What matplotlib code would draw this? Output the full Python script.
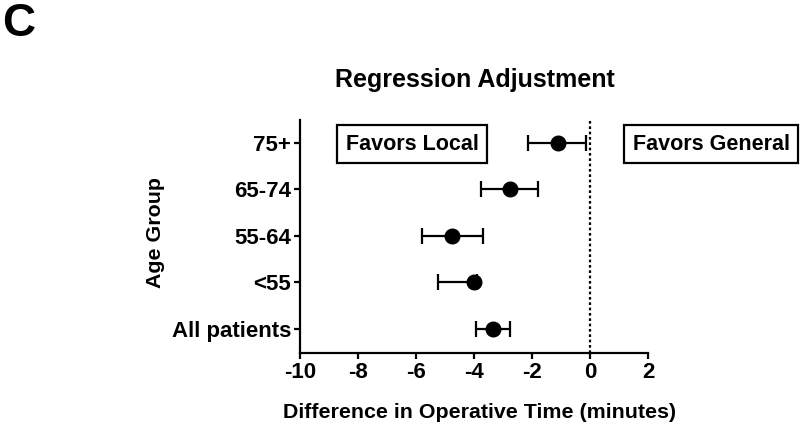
import matplotlib
matplotlib.use("Agg")
import matplotlib.pyplot as plt

plt.rcParams["font.family"] = ["Liberation Sans", "DejaVu Sans"]
plt.rcParams["font.weight"] = "bold"

# Data
groups = ["All patients", "<55", "55-64", "65-74", "75+"]
estimate = [-3.35, -3.99, -4.75, -2.78, -1.11]
ci_low = [-3.93, -5.24, -5.81, -3.78, -2.13]
ci_high = [-2.78, -3.90, -3.71, -1.80, -0.14]
x_ticks = [-10, -8, -6, -4, -2, 0, 2]

fig = plt.figure(figsize=(8, 4.28), dpi=100)
ax = fig.add_axes([0.375, 0.1752, 0.4354, 0.5444])

ypos = list(range(len(groups)))
err_lo = [e - lo for e, lo in zip(estimate, ci_low)]
err_hi = [hi - e for e, hi in zip(estimate, ci_high)]

ax.axvline(0, color="black", linestyle=(0, (1.2, 1.2)), linewidth=1.6, zorder=1)
ax.errorbar(estimate, ypos, xerr=[err_lo, err_hi], fmt="o", color="black",
            markersize=10.5, elinewidth=1.6, capsize=5.5, capthick=1.6, zorder=3)

ax.set_xlim(-10, 2)
ax.set_ylim(-0.52, 4.49)
ax.set_xticks(x_ticks)
ax.set_xticklabels([str(t) for t in x_ticks])
ax.set_yticks(ypos)
ax.set_yticklabels(groups)

for side in ["top", "right"]:
    ax.spines[side].set_visible(False)
for side in ["left", "bottom"]:
    ax.spines[side].set_linewidth(1.6)
ax.tick_params(axis="both", direction="out", length=4.5, width=1.6,
               labelsize=16, pad=2)
for lab in ax.get_xticklabels() + ax.get_yticklabels():
    lab.set_fontweight("bold")

ax.set_xlabel("Difference in Operative Time (minutes)", fontsize=15.4,
              fontweight="bold")
ax.xaxis.set_label_coords((480 - 300) / 348.3, (353 - 403) / 233)
ax.set_ylabel("Age Group", fontsize=15.4, fontweight="bold")
ax.yaxis.set_label_coords((165 - 300) / 348.3, (353 - 232) / 233)

box = dict(boxstyle="square,pad=0.4", facecolor="white", edgecolor="black",
           linewidth=1.6)
ax.text(-6.13, 3.97, "Favors Local", fontsize=15.5, fontweight="bold",
        ha="center", va="center", bbox=box, zorder=4)
ax.text(4.17, 3.97, "Favors General", fontsize=15.5, fontweight="bold",
        ha="center", va="center", bbox=box, clip_on=False, zorder=4)

fig.text(0.594, 1 - 80 / 428, "Regression Adjustment", fontsize=18,
         fontweight="bold", ha="center", va="center")
fig.text(0.003, 1 - 24 / 428, "C", fontsize=33, fontweight="bold",
         ha="left", va="center")

fig.savefig("out.png", dpi=100)
